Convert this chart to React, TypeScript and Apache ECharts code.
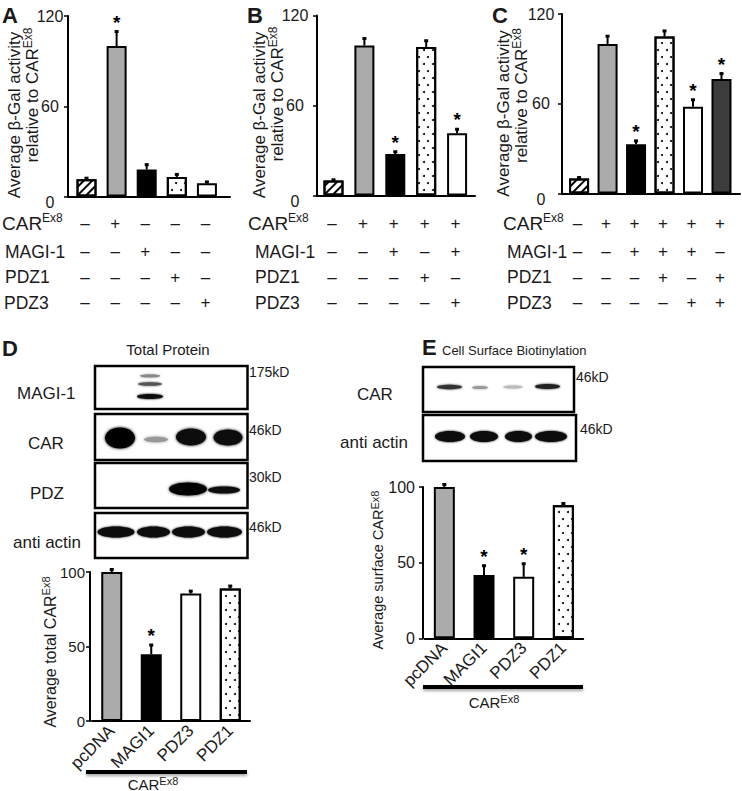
import React, { useEffect, useRef } from 'react';
import * as echarts from 'echarts';

// ---------- data ----------
const tableRows = ['CAR', 'MAGI-1', 'PDZ1', 'PDZ3'];

const aValues = [11.5, 100, 18, 13, 8.8];
const aErrors = [1, 10, 3.5, 2, 1.2];
const aStars = [0, 1, 0, 0, 0];
const aFills = ['hatch', 'gray', 'black', 'dots', 'white'];
const aSigns = ['-+---', '--+--', '---+-', '----+'];

const bValues = [10, 100, 27.7, 99, 41.5];
const bErrors = [0.8, 5, 1.8, 4.5, 3];
const bStars = [0, 0, 1, 0, 1];
const bFills = ['hatch', 'gray', 'black', 'dots', 'white'];
const bSigns = ['-++++', '--+-+', '---+-', '----+'];

const cValues = [10, 100, 33, 105, 58, 76.5];
const cErrors = [1, 5.5, 2.5, 4, 5, 4];
const cStars = [0, 0, 1, 0, 1, 1];
const cFills = ['hatch', 'gray', 'black', 'dots', 'white', 'dark'];
const cSigns = ['-+++++', '--+++-', '---+-+', '----++'];

const abcTicks = [0, 60, 120];

const dCategories = ['pcDNA', 'MAGI1', 'PDZ3', 'PDZ1'];
const dValues = [100, 44.8, 85.5, 88.9];
const dErrors = [2, 6.5, 2, 2];
const dStars = [0, 1, 0, 0];
const dFills = ['gray', 'black', 'white', 'dots'];

const eCategories = ['pcDNA', 'MAGI1', 'PDZ3', 'PDZ1'];
const eValues = [100, 41.8, 40.6, 87.9];
const eErrors = [2, 6.5, 9, 1.5];
const eStars = [0, 1, 1, 0];
const eFills = ['gray', 'black', 'white', 'dots'];

const deTicks = [0, 50, 100];

const blotLabelsD = ['MAGI-1', 'CAR', 'PDZ', 'anti actin'];
const markersD = ['175kD', '46kD', '30kD', '46kD'];
const blotLabelsE = ['CAR', 'anti actin'];
const markersE = ['46kD', '46kD'];

// ---------- styles ----------
const FONT = '"Liberation Sans", Arial, Helvetica, sans-serif';
const INK = '#1a1a1a';

function fillStyle(kind: string): any {
  const base = { borderColor: '#000', borderWidth: 2 };
  switch (kind) {
    case 'gray':
      return { ...base, color: '#ababab' };
    case 'black':
      return { ...base, color: '#000' };
    case 'dark':
      return { ...base, color: '#3c3c3c' };
    case 'hatch':
      return {
        ...base,
        color: '#fff',
        decal: { symbol: 'rect', symbolSize: 1, color: '#000', dashArrayX: [1, 0], dashArrayY: [1.2, 3.2], rotation: -Math.PI / 4 },
      };
    case 'dots':
      return {
        ...base,
        color: '#fff',
        decal: { symbol: 'circle', symbolSize: 1, color: '#000', dashArrayX: [[1.3, 6.2], [0, 3.75, 1.3, 2.45]], dashArrayY: [1.3, 4.2], rotation: 0 },
      };
    default:
      return { ...base, color: '#fff' };
  }
}

const panels: any[] = [
  { values: aValues, errors: aErrors, stars: aStars, fills: aFills, signs: aSigns, ticks: abcTicks,
    grid: { left: 68, top: 16, width: 162, height: 180.5 }, xMin: -0.615, xMax: 4.767, barWidth: 20,
    labelAlign: 'center', labelMargin: 18, labelSize: 16 },
  { values: bValues, errors: bErrors, stars: bStars, fills: bFills, signs: bSigns, ticks: abcTicks,
    grid: { left: 317, top: 15.5, width: 158, height: 180 }, xMin: -0.534, xMax: 4.58, barWidth: 20,
    labelAlign: 'center', labelMargin: 22, labelSize: 16 },
  { values: cValues, errors: cErrors, stars: cStars, fills: cFills, signs: cSigns, ticks: abcTicks,
    grid: { left: 562, top: 14, width: 178, height: 179.5 }, xMin: -0.6, xMax: 5.65, barWidth: 20,
    labelAlign: 'center', labelMargin: 21, labelSize: 16 },
  { values: dValues, errors: dErrors, stars: dStars, fills: dFills, categories: dCategories, ticks: deTicks,
    grid: { left: 92, top: 572, width: 158, height: 149 }, yOffset: 2, barWidth: 21,
    labelAlign: 'right', labelMargin: 5, labelSize: 15 },
  { values: eValues, errors: eErrors, stars: eStars, fills: eFills, categories: eCategories, ticks: deTicks,
    grid: { left: 424.5, top: 487, width: 158.7, height: 151.3 }, yOffset: 1.5, barWidth: 21,
    labelAlign: 'right', labelMargin: 8, labelSize: 16 },
];

const rowY = [223, 251.5, 277, 302.5];

function supText(x: number, y: number, main: string, size: number, supSize: number, opts: any = {}) {
  return {
    type: 'text',
    x,
    y,
    rotation: opts.rotation || 0,
    z: 20,
    style: {
      text: `{m|${main}}{s|Ex8}`,
      fill: INK,
      align: opts.align || 'left',
      verticalAlign: 'middle',
      rich: {
        m: { fontSize: size, fontFamily: FONT, lineHeight: Math.round(size * 1.22), fill: INK },
        s: { fontSize: supSize, fontFamily: FONT, verticalAlign: 'top', fill: INK },
      },
    },
  };
}

function plainText(x: number, y: number, text: string, size: number, opts: any = {}) {
  return {
    type: 'text',
    x,
    y,
    rotation: opts.rotation || 0,
    z: 20,
    style: {
      text,
      font: `${opts.bold ? 'bold ' : ''}${size}px ${FONT}`,
      fill: INK,
      align: opts.align || 'left',
      verticalAlign: 'middle',
    },
  };
}

function band(cx: number, cy: number, rx: number, ry: number, color: string, blur = 3) {
  return {
    type: 'ellipse',
    z: 12,
    shape: { cx, cy, rx, ry },
    style: { fill: color, shadowBlur: blur, shadowColor: color },
  };
}

function box(x1: number, y1: number, x2: number, y2: number) {
  return {
    type: 'rect',
    z: 11,
    shape: { x: x1, y: y1, width: x2 - x1, height: y2 - y1 },
    style: { fill: '#fff', stroke: '#000', lineWidth: 2.5 },
  };
}

function buildOption() {
  const grid: any[] = [];
  const xAxis: any[] = [];
  const yAxis: any[] = [];
  const series: any[] = [];

  panels.forEach((p, i) => {
    grid.push({ ...p.grid, containLabel: false, outerBoundsMode: 'none' });
    const axisLine = { show: true, onZero: false, lineStyle: { color: '#000', width: 2 } };
    if (p.categories) {
      xAxis.push({
        type: 'category', gridIndex: i, data: p.categories, boundaryGap: true,
        axisLine, axisTick: { show: false }, splitLine: { show: false },
        axisLabel: { rotate: 45, fontSize: 17, fontFamily: FONT, color: INK, margin: 7, interval: 0 },
      });
    } else {
      xAxis.push({
        type: 'value', gridIndex: i, min: p.xMin, max: p.xMax,
        axisLine, axisTick: { show: false }, axisLabel: { show: false }, splitLine: { show: false },
      });
    }
    const t = p.ticks;
    yAxis.push({
      type: 'value', gridIndex: i, min: t[0], max: t[t.length - 1], interval: t[1] - t[0],
      offset: p.yOffset || 0,
      axisLine,
      axisTick: { show: true, length: 4, lineStyle: { color: '#000', width: 1.5 } },
      splitLine: { show: false },
      axisLabel: {
        fontSize: p.labelSize, fontFamily: FONT, color: INK, margin: p.labelMargin, align: p.labelAlign,
        formatter: (v: number) => (v === 0 && !p.categories ? '{z|0}' : '{n|' + v + '}'),
        rich: {
          z: { fontSize: p.labelSize, fontFamily: FONT, color: INK, padding: [11, 0, 0, 0] },
          n: { fontSize: p.labelSize, fontFamily: FONT, color: INK },
        },
      },
    });

    series.push({
      type: 'bar', xAxisIndex: i, yAxisIndex: i, barWidth: p.barWidth, silent: true,
      data: p.values.map((v: number, j: number) => ({ value: [j, v], itemStyle: fillStyle(p.fills[j]) })),
    });

    series.push({
      type: 'custom', xAxisIndex: i, yAxisIndex: i, silent: true, clip: false, z: 5,
      encode: { x: 0, y: 1 },
      data: p.values.map((v: number, j: number) => [j, v, p.errors[j], p.stars[j]]),
      renderItem: (params: any, api: any) => {
        const x = api.value(0);
        const v = api.value(1);
        const e = api.value(2);
        const s = api.value(3);
        const p0 = api.coord([x, v]);
        const p1 = api.coord([x, v + e]);
        const children: any[] = [
          { type: 'line', shape: { x1: p0[0], y1: p0[1], x2: p1[0], y2: p1[1] }, style: { stroke: '#000', lineWidth: 2 } },
          { type: 'rect', shape: { x: p0[0] - 2, y: p1[1] - 1, width: 4, height: 3 }, style: { fill: '#000' } },
        ];
        if (s) {
          children.push({
            type: 'text', x: p0[0], y: p1[1] - 9,
            style: { text: '*', font: `bold 19px ${FONT}`, fill: '#000', align: 'center', verticalAlign: 'middle' },
          });
        }
        return { type: 'group', children };
      },
    });

    if (p.signs) {
      const signData: number[][] = [];
      p.signs.forEach((row: string, r: number) => {
        row.split('').forEach((ch: string, j: number) => signData.push([j, r, ch === '+' ? 1 : 0]));
      });
      series.push({
        type: 'custom', xAxisIndex: i, yAxisIndex: i, silent: true, clip: false, z: 5,
        encode: { x: 0, y: 1 },
        data: signData,
        renderItem: (params: any, api: any) => {
          const col = api.value(0);
          const r = api.value(1);
          const plus = api.value(2);
          const x = api.coord([col, 0])[0];
          return {
            type: 'text', x: x - 1.5, y: rowY[r],
            style: { text: plus ? '+' : '–', font: `17px ${FONT}`, fill: INK, align: 'center', verticalAlign: 'middle' },
          };
        },
      });
    }
  });

  const g: any[] = [];
  // panel letters
  g.push(plainText(2, 15, 'A', 22, { bold: true }));
  g.push(plainText(247, 15, 'B', 22, { bold: true }));
  g.push(plainText(492, 15, 'C', 22, { bold: true }));
  g.push(plainText(2, 348, 'D', 22, { bold: true }));
  g.push(plainText(422, 347, 'E', 22, { bold: true }));

  // table row labels
  const labelX = [
    [2, 5, 5, 4],
    [248, 255, 255, 255],
    [503, 507, 507, 507],
  ];
  labelX.forEach((xs) => {
    tableRows.forEach((name, r) => {
      if (r === 0) g.push(supText(xs[r], rowY[r], name, 19, 12));
      else g.push(plainText(xs[r], rowY[r], name, 17.5));
    });
  });

  // y-axis titles A-C
  const titles = [
    [14.5, 115, 32, 95],
    [259.5, 115, 277, 94],
    [503.5, 113.5, 521, 95.5],
  ];
  titles.forEach(([x1, y1, x2, y2]) => {
    g.push(plainText(x1, y1, 'Average β-Gal activity', 17, { rotation: Math.PI / 2, align: 'center' }));
    g.push(supText(x2, y2, 'relative to CAR', 17, 12, { rotation: Math.PI / 2, align: 'center' }));
  });

  // Panel D blots
  g.push(plainText(168, 349, 'Total Protein', 15, { align: 'center' }));
  const dBoxes = [[366, 409], [414, 460], [463, 508], [513, 558]];
  dBoxes.forEach(([y1, y2]) => g.push(box(95, y1, 247.5, y2)));
  const dLabelPos = [[17, 393], [28, 443], [30, 493], [13, 542]];
  blotLabelsD.forEach((t, k) => g.push(plainText(dLabelPos[k][0], dLabelPos[k][1], t, 17)));
  const dMarkY = [372, 430, 477, 527];
  markersD.forEach((t, k) => g.push(plainText(249, dMarkY[k], t, 14)));
  // MAGI-1 bands
  g.push(band(150, 376, 10, 1.4, '#888', 2));
  g.push(band(150, 384, 12, 1.8, '#555', 2));
  g.push(band(150, 396.5, 13, 2.5, '#111', 2));
  // CAR bands
  g.push(band(120, 438, 15, 10.5, '#000', 3));
  g.push(band(156, 439.5, 12, 2.8, '#999', 3));
  g.push(band(191, 437, 15, 8.5, '#111', 3));
  g.push(band(228, 437.5, 14.5, 8, '#111', 3));
  // PDZ bands
  g.push(band(188, 489, 19, 6.5, '#000', 3));
  g.push(band(224, 490, 16, 3.5, '#111', 2));
  // actin bands D
  [[116, 18.5], [153.5, 16.5], [188.5, 16.5], [224.5, 17.5]].forEach(([cx, rx]) => g.push(band(cx, 532, rx, 5.5, '#0a0a0a', 2)));

  // Panel E blots
  g.push(plainText(442, 350, 'Cell Surface Biotinylation', 13, { align: 'left' }));
  g.push(box(423, 367, 574, 412));
  g.push(box(423, 415, 576, 461));
  const eLabelPos = [[357, 394], [340, 442]];
  blotLabelsE.forEach((t, k) => g.push(plainText(eLabelPos[k][0], eLabelPos[k][1], t, 17)));
  const eMark = [[576, 377], [580, 429]];
  markersE.forEach((t, k) => g.push(plainText(eMark[k][0], eMark[k][1], t, 14)));
  g.push(band(449.5, 387, 12.5, 2.2, '#333', 2));
  g.push(band(480, 387.5, 8, 1.6, '#999', 2));
  g.push(band(513, 387, 10, 1.5, '#bbb', 2));
  g.push(band(547.5, 386.5, 12.5, 2.5, '#222', 2));
  [[450, 15], [484, 14], [518.5, 13.5], [551, 16]].forEach(([cx, rx]) => g.push(band(cx, 436.5, rx, 5.5, '#0a0a0a', 2)));

  // D / E axis titles
  g.push(supText(50, 652, 'Average total CAR', 16, 11, { rotation: Math.PI / 2, align: 'center' }));
  g.push(supText(378, 570, 'Average surface CAR', 14.5, 11, { rotation: Math.PI / 2, align: 'center' }));

  // underlines & group labels
  const ul = (x1: number, x2: number, y: number) => ({
    type: 'rect', z: 12, shape: { x: x1, y: y - 2, width: x2 - x1, height: 4 },
    style: { fill: '#000', shadowBlur: 3, shadowOffsetY: 2, shadowColor: 'rgba(0,0,0,0.35)' },
  });
  g.push(ul(86, 247, 772));
  g.push(ul(423, 583, 687));
  g.push(supText(153, 784, 'CAR', 15, 11, { align: 'center' }));
  g.push(supText(494, 702, 'CAR', 15, 11, { align: 'center' }));

  return {
    animation: false,
    backgroundColor: '#fff',
    grid,
    xAxis,
    yAxis,
    series,
    graphic: { elements: g },
  };
}

export default function App() {
  const ref = useRef<HTMLDivElement>(null);
  useEffect(() => {
    const chart = echarts.init(ref.current as HTMLDivElement, null, { renderer: 'svg' });
    chart.setOption(buildOption() as any);
    return () => chart.dispose();
  }, []);
  return (
    <div
      ref={ref}
      style={{ position: 'absolute', left: 0, top: 0, width: 742, height: 791, background: '#fff' }}
    />
  );
}
